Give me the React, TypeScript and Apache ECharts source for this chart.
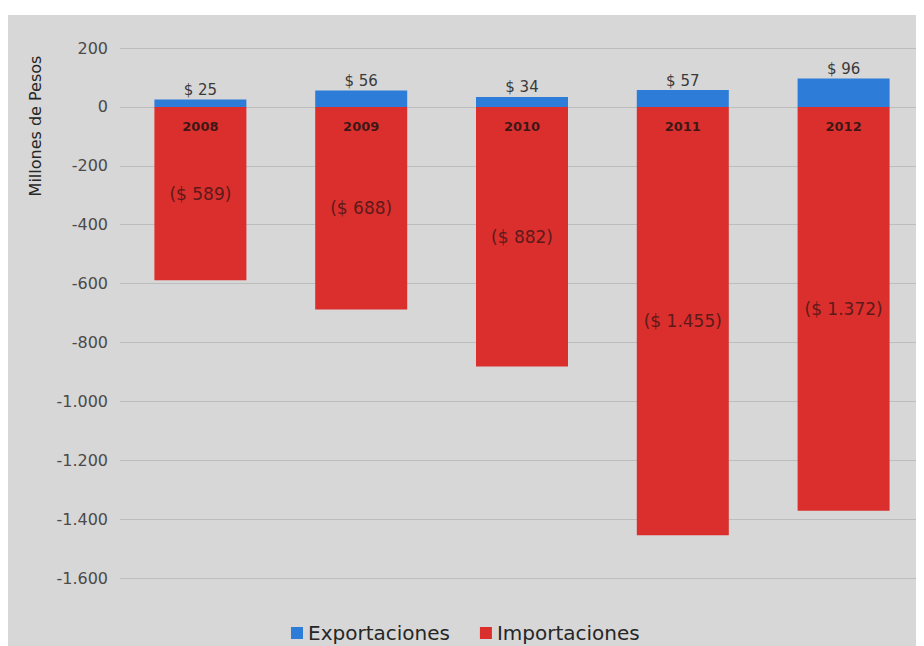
import React, { useEffect, useRef } from "react";
import * as echarts from "echarts";

const years = ["2008", "2009", "2010", "2011", "2012"];
const exportaciones = [25, 56, 34, 57, 96];
const importaciones = [-589, -688, -882, -1455, -1372];
const yTicks = { min: -1600, max: 200, interval: 200 };

const fmt = (v: number) => {
  const s = Math.abs(v).toString().replace(/\B(?=(\d{3})+(?!\d))/g, ".");
  return (v < 0 ? "-" : "") + s;
};

export default function App() {
  const ref = useRef<HTMLDivElement>(null);
  useEffect(() => {
    const chart = echarts.init(ref.current!, null, { renderer: "svg" });
    const font = "DejaVu Sans, Verdana, sans-serif";
    chart.setOption({
      animation: false,
      backgroundColor: "#d7d7d7",
      textStyle: { fontFamily: font },
      grid: { left: 112, right: 0, top: 33, bottom: 68 },
      legend: {
        data: ["Exportaciones", "Importaciones"],
        left: 278,
        top: 603,
        itemWidth: 12,
        itemHeight: 12,
        itemGap: 30,
        icon: "rect",
        textStyle: { fontSize: 20, color: "#262626", fontFamily: font },
      },
      graphic: [
        {
          type: "text",
          x: 27,
          y: 111,
          rotation: Math.PI / 2,
          style: {
            text: "Millones de Pesos",
            fontSize: 16,
            fill: "#262626",
            fontFamily: font,
            align: "center",
            verticalAlign: "middle",
          },
        },
      ],
      xAxis: {
        type: "category",
        data: years,
        axisLine: { show: false },
        axisTick: { show: false },
        axisLabel: { show: false },
      },
      yAxis: {
        type: "value",
        min: yTicks.min,
        max: yTicks.max,
        interval: yTicks.interval,
        axisLine: { show: false },
        axisTick: { show: false },
        splitLine: { lineStyle: { color: "#bdbdbd", width: 1 } },
        axisLabel: {
          formatter: (v: number) => fmt(v),
          color: "#4a4a4a",
          fontSize: 16,
          margin: 12,
          fontFamily: font,
        },
      },
      series: [
        {
          name: "Exportaciones",
          type: "bar",
          stack: "total",
          barWidth: 92,
          data: exportaciones,
          itemStyle: { color: "#2d7dd8" },
          label: {
            show: true,
            position: "top",
            distance: 2,
            formatter: (p: any) => "$ " + fmt(p.value),
            color: "#3a3a3a",
            fontSize: 15,
            fontFamily: font,
          },
        },
        {
          name: "Importaciones",
          type: "bar",
          stack: "total",
          barWidth: 92,
          data: importaciones,
          itemStyle: { color: "#da2f2c" },
          label: {
            show: true,
            position: "inside",
            formatter: (p: any) => "($ " + fmt(Math.abs(p.value)) + ")",
            color: "#5e1a1a",
            fontSize: 17,
            fontFamily: font,
          },
        },
        {
          name: "years",
          type: "scatter",
          z: 10,
          symbolSize: 2,
          itemStyle: { color: "rgba(0,0,0,0)" },
          data: years.map(() => 0),
          silent: true,
          label: {
            show: true,
            position: "bottom",
            distance: 12,
            formatter: (p: any) => years[p.dataIndex],
            color: "#111",
            fontWeight: "bold",
            fontSize: 13,
            fontFamily: font,
          },
        },
      ],
    });
    return () => chart.dispose();
  }, []);
  return (
    <div style={{ paddingTop: 7, background: "#fff" }}>
      <div ref={ref} style={{ width: 916, height: 631 }} />
    </div>
  );
}
